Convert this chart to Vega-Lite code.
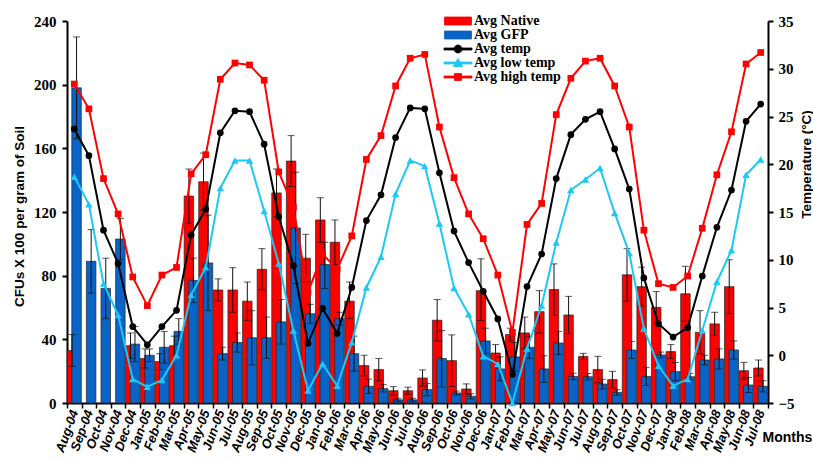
{
  "$schema": "https://vega.github.io/schema/vega-lite/v6.json",
  "width": 701,
  "height": 382,
  "autosize": {"type": "none"},
  "padding": {"left": 67, "top": 21, "right": 45, "bottom": 57},
  "background": "white",
  "config": {
    "view": {"stroke": null},
    "axis": {"grid": false, "labelColor": "black", "titleColor": "black", "domainColor": "black", "tickColor": "black"},
    "legend": {
      "orient": "none", "legendX": 384, "legendY": -7, "padding": 0,
      "labelFont": "Liberation Serif", "labelFontWeight": "bold", "labelFontSize": 14, "labelColor": "black",
      "symbolSize": 100, "labelOffset": 9, "rowPadding": -2.4
    }
  },
  "data": {"values": [
    {"m":"Aug-04","nat":33,"nlo":23,"nhi":43,"gfp":198,"glo":166,"ghi":230,"t":23.7,"lo":18.7,"hi":28.4},
    {"m":"Sep-04","nat":null,"nlo":null,"nhi":null,"gfp":89,"glo":69,"ghi":109,"t":20.9,"lo":15.8,"hi":25.8},
    {"m":"Oct-04","nat":null,"nlo":null,"nhi":null,"gfp":72,"glo":53,"ghi":91,"t":13.1,"lo":7.5,"hi":18.5},
    {"m":"Nov-04","nat":null,"nlo":null,"nhi":null,"gfp":103,"glo":90,"ghi":116,"t":9.6,"lo":4.2,"hi":14.8},
    {"m":"Dec-04","nat":36,"nlo":28,"nhi":44,"gfp":37,"glo":26,"ghi":48,"t":3.0,"lo":-2.5,"hi":8.2},
    {"m":"Jan-05","nat":28,"nlo":22,"nhi":34,"gfp":30,"glo":26,"ghi":34,"t":1.1,"lo":-3.3,"hi":5.2},
    {"m":"Feb-05","nat":26,"nlo":21,"nhi":31,"gfp":35,"glo":25,"ghi":45,"t":3.0,"lo":-2.6,"hi":8.4},
    {"m":"Mar-05","nat":36,"nlo":30,"nhi":42,"gfp":45,"glo":37,"ghi":53,"t":4.7,"lo":0.0,"hi":9.2},
    {"m":"Apr-05","nat":130,"nlo":113,"nhi":147,"gfp":77,"glo":63,"ghi":91,"t":12.6,"lo":6.3,"hi":19.0},
    {"m":"May-05","nat":139,"nlo":121,"nhi":157,"gfp":88,"glo":58,"ghi":118,"t":15.3,"lo":9.2,"hi":21.0},
    {"m":"Jun-05","nat":71,"nlo":64,"nhi":78,"gfp":31,"glo":27,"ghi":35,"t":23.3,"lo":17.5,"hi":28.9},
    {"m":"Jul-05","nat":71,"nlo":57,"nhi":85,"gfp":38,"glo":32,"ghi":44,"t":25.6,"lo":20.4,"hi":30.6},
    {"m":"Aug-05","nat":64,"nlo":52,"nhi":76,"gfp":41,"glo":24,"ghi":58,"t":25.5,"lo":20.4,"hi":30.4},
    {"m":"Sep-05","nat":84,"nlo":71,"nhi":97,"gfp":41,"glo":28,"ghi":54,"t":22.1,"lo":15.1,"hi":28.8},
    {"m":"Oct-05","nat":132,"nlo":117,"nhi":147,"gfp":51,"glo":37,"ghi":65,"t":14.5,"lo":9.6,"hi":19.2},
    {"m":"Nov-05","nat":152,"nlo":136,"nhi":168,"gfp":110,"glo":75,"ghi":145,"t":9.4,"lo":2.6,"hi":15.5},
    {"m":"Dec-05","nat":91,"nlo":76,"nhi":106,"gfp":56,"glo":50,"ghi":62,"t":1.25,"lo":-3.7,"hi":6.6},
    {"m":"Jan-06","nat":115,"nlo":101,"nhi":129,"gfp":87,"glo":72,"ghi":101,"t":4.9,"lo":-0.9,"hi":10.6},
    {"m":"Feb-06","nat":101,"nlo":87,"nhi":115,"gfp":53,"glo":49,"ghi":57,"t":2.3,"lo":-3.2,"hi":9.0},
    {"m":"Mar-06","nat":64,"nlo":53,"nhi":76,"gfp":31,"glo":20,"ghi":42,"t":7.1,"lo":1.35,"hi":12.5},
    {"m":"Apr-06","nat":23.5,"nlo":17,"nhi":30,"gfp":10.5,"glo":6,"ghi":15,"t":14.1,"lo":7.1,"hi":20.5},
    {"m":"May-06","nat":21,"nlo":14,"nhi":28,"gfp":9,"glo":7,"ghi":11.5,"t":16.8,"lo":10.3,"hi":23.0},
    {"m":"Jun-06","nat":7.7,"nlo":5,"nhi":10.3,"gfp":2,"glo":1,"ghi":3,"t":22.8,"lo":16.9,"hi":28.2},
    {"m":"Jul-06","nat":7.7,"nlo":5.5,"nhi":10,"gfp":2,"glo":1,"ghi":3,"t":25.9,"lo":20.4,"hi":31.1},
    {"m":"Aug-06","nat":15.7,"nlo":10.6,"nhi":20.8,"gfp":8.4,"glo":4.5,"ghi":12.3,"t":25.8,"lo":19.8,"hi":31.5},
    {"m":"Sep-06","nat":52,"nlo":39,"nhi":65,"gfp":28,"glo":10,"ghi":45.5,"t":19.1,"lo":13.8,"hi":23.9},
    {"m":"Oct-06","nat":26.6,"nlo":10.4,"nhi":42.8,"gfp":6.3,"glo":5,"ghi":7.5,"t":13.0,"lo":7.05,"hi":18.6},
    {"m":"Nov-06","nat":8.8,"nlo":5.6,"nhi":12,"gfp":4.2,"glo":2.6,"ghi":5.8,"t":9.7,"lo":4.3,"hi":14.8},
    {"m":"Dec-06","nat":70.6,"nlo":51.8,"nhi":90.6,"gfp":39,"glo":31,"ghi":47,"t":6.7,"lo":-0.1,"hi":12.2},
    {"m":"Jan-07","nat":31.4,"nlo":26,"nhi":36.7,"gfp":21.4,"glo":14,"ghi":29,"t":3.8,"lo":-0.9,"hi":8.4},
    {"m":"Feb-07","nat":43,"nlo":39,"nhi":47,"gfp":29,"glo":20,"ghi":38,"t":-2.0,"lo":-5.0,"hi":2.4},
    {"m":"Mar-07","nat":44,"nlo":34,"nhi":54,"gfp":35,"glo":28,"ghi":42,"t":7.2,"lo":0.7,"hi":13.7},
    {"m":"Apr-07","nat":57.4,"nlo":44,"nhi":70.6,"gfp":21.4,"glo":13,"ghi":29.7,"t":10.6,"lo":5.2,"hi":15.9},
    {"m":"May-07","nat":71.3,"nlo":55,"nhi":87.4,"gfp":37.7,"glo":30.5,"ghi":45,"t":18.5,"lo":11.8,"hi":25.2},
    {"m":"Jun-07","nat":55.3,"nlo":43.6,"nhi":67,"gfp":16.7,"glo":14.7,"ghi":18.7,"t":23.1,"lo":17.3,"hi":29.0},
    {"m":"Jul-07","nat":29.3,"nlo":27.4,"nhi":31.2,"gfp":16.5,"glo":14.5,"ghi":18.5,"t":24.7,"lo":18.4,"hi":30.8},
    {"m":"Aug-07","nat":21,"nlo":12.7,"nhi":29.3,"gfp":11.9,"glo":8.9,"ghi":14.9,"t":25.5,"lo":19.6,"hi":31.1},
    {"m":"Sep-07","nat":14.7,"nlo":9.5,"nhi":19.9,"gfp":6.7,"glo":5,"ghi":8.4,"t":21.6,"lo":14.9,"hi":28.2},
    {"m":"Oct-07","nat":80.5,"nlo":64,"nhi":97,"gfp":33.3,"glo":28,"ghi":38.7,"t":17.4,"lo":10.7,"hi":23.9},
    {"m":"Nov-07","nat":73.1,"nlo":61,"nhi":85.3,"gfp":16.7,"glo":11,"ghi":22.4,"t":8.1,"lo":2.8,"hi":13.1},
    {"m":"Dec-07","nat":60.1,"nlo":50,"nhi":70,"gfp":30.2,"glo":28.5,"ghi":32,"t":3.3,"lo":-1.1,"hi":7.5},
    {"m":"Jan-08","nat":32.3,"nlo":28,"nhi":36.7,"gfp":19.7,"glo":14,"ghi":25.5,"t":1.9,"lo":-3.2,"hi":7.1},
    {"m":"Feb-08","nat":68.6,"nlo":51.3,"nhi":85.9,"gfp":16.5,"glo":14.5,"ghi":18.5,"t":2.9,"lo":-2.5,"hi":8.3},
    {"m":"Mar-08","nat":44.4,"nlo":31,"nhi":58,"gfp":27,"glo":24,"ghi":30,"t":8.3,"lo":2.6,"hi":13.3},
    {"m":"Apr-08","nat":49.7,"nlo":42.4,"nhi":57,"gfp":27.7,"glo":21.4,"ghi":34,"t":13.4,"lo":7.7,"hi":18.9},
    {"m":"May-08","nat":73.1,"nlo":56,"nhi":90,"gfp":33.3,"glo":27.6,"ghi":39,"t":17.3,"lo":11.0,"hi":23.4},
    {"m":"Jun-08","nat":20.3,"nlo":15,"nhi":25.5,"gfp":11.3,"glo":6.6,"ghi":16,"t":24.5,"lo":18.9,"hi":30.5},
    {"m":"Jul-08","nat":22,"nlo":17,"nhi":27,"gfp":10.5,"glo":7,"ghi":14,"t":26.3,"lo":20.5,"hi":31.7}
  ]},
  "encoding": {
    "x": {
      "field": "m", "type": "ordinal",
      "sort": ["Aug-04","Sep-04","Oct-04","Nov-04","Dec-04","Jan-05","Feb-05","Mar-05","Apr-05","May-05","Jun-05","Jul-05","Aug-05","Sep-05","Oct-05","Nov-05","Dec-05","Jan-06","Feb-06","Mar-06","Apr-06","May-06","Jun-06","Jul-06","Aug-06","Sep-06","Oct-06","Nov-06","Dec-06","Jan-07","Feb-07","Mar-07","Apr-07","May-07","Jun-07","Jul-07","Aug-07","Sep-07","Oct-07","Nov-07","Dec-07","Jan-08","Feb-08","Mar-08","Apr-08","May-08","Jun-08","Jul-08"],
      "scale": {"paddingInner": 0, "paddingOuter": 0},
      "axis": {
        "title": "Months", "labelAngle": -70, "labelAlign": "right", "labelBaseline": "middle",
        "labelFont": "Liberation Sans", "labelFontWeight": "bold", "labelFontStyle": "italic", "labelFontSize": 13,
        "labelPadding": 2, "domainWidth": 2, "tickWidth": 1.5, "tickSize": 5, "tickBand": "extent",
        "titleFont": "Liberation Sans", "titleFontWeight": "bold", "titleFontSize": 14,
        "titleX": 695, "titleY": 34, "titleAlign": "left", "titleBaseline": "middle", "titleAnchor": null
      }
    }
  },
  "layer": [
    {
      "layer": [
        {
          "mark": {"type": "bar", "width": {"band": 0.65}, "xOffset": -2.25, "stroke": "#222222", "strokeWidth": 0.7},
          "encoding": {
            "y": {
              "field": "nat", "type": "quantitative",
              "scale": {"domain": [0, 240], "nice": false, "zero": true},
              "axis": {
                "title": "CFUs X 100 per gram of Soil",
                "values": [0,20,40,60,80,100,120,140,160,180,200,220,240],
                "labelFont": "Liberation Serif", "labelFontWeight": "bold", "labelFontSize": 15, "labelPadding": 6,
                "domainWidth": 2, "tickWidth": 2, "tickSize": 5,
                "titleFont": "Liberation Sans", "titleFontWeight": "bold", "titleFontSize": 13.5, "titlePadding": 7, "titleY": 195
              }
            },
            "color": {
              "datum": "Avg Native",
              "scale": {
                "domain": ["Avg Native", "Avg GFP", "Avg temp", "Avg low temp", "Avg high temp"],
                "range": ["#ff0000", "#0a64c8", "#000000", "#1ec8f5", "#ff0000"]
              },
              "legend": {
                "title": null,
                "symbolType": {"expr": "datum.value == 'Avg Native' || datum.value == 'Avg GFP' ? 'M-2.7,-0.8H2.7V0.8H-2.7Z' : datum.value == 'Avg temp' ? 'M-2.8,-0.2H2.8V0.2H-2.8Z M0.8,0A0.8,0.8,0,1,1,-0.8,0A0.8,0.8,0,1,1,0.8,0Z' : datum.value == 'Avg low temp' ? 'M-2.8,-0.2H2.8V0.2H-2.8Z M0,-0.95L0.95,0.7H-0.95Z' : 'M-2.8,-0.2H2.8V0.2H-2.8Z M-0.7,-0.7H0.7V0.7H-0.7Z'"},
                "symbolStrokeColor": {"expr": "datum.value == 'Avg Native' || datum.value == 'Avg GFP' ? '#222222' : scale('color', datum.value)"},
                "symbolStrokeWidth": 0.8,
                "symbolOpacity": 1
              }
            }
          }
        },
        {
          "mark": {"type": "bar", "width": {"band": 0.65}, "xOffset": 2.25, "stroke": "#222222", "strokeWidth": 0.7},
          "encoding": {
            "y": {"field": "gfp", "type": "quantitative"},
            "color": {"datum": "Avg GFP"}
          }
        },
        {
          "mark": {"type": "rule", "xOffset": -2.25, "color": "#111111", "strokeWidth": 1},
          "encoding": {"y": {"field": "nlo", "type": "quantitative"}, "y2": {"field": "nhi"}}
        },
        {
          "mark": {"type": "tick", "xOffset": -2.25, "color": "#111111", "size": 7, "thickness": 1, "orient": "horizontal"},
          "encoding": {"y": {"field": "nhi", "type": "quantitative"}}
        },
        {
          "mark": {"type": "tick", "xOffset": -2.25, "color": "#111111", "size": 7, "thickness": 1, "orient": "horizontal"},
          "encoding": {"y": {"field": "nlo", "type": "quantitative"}}
        },
        {
          "mark": {"type": "rule", "xOffset": 2.25, "color": "#111111", "strokeWidth": 1},
          "encoding": {"y": {"field": "glo", "type": "quantitative"}, "y2": {"field": "ghi"}}
        },
        {
          "mark": {"type": "tick", "xOffset": 2.25, "color": "#111111", "size": 7, "thickness": 1, "orient": "horizontal"},
          "encoding": {"y": {"field": "ghi", "type": "quantitative"}}
        },
        {
          "mark": {"type": "tick", "xOffset": 2.25, "color": "#111111", "size": 7, "thickness": 1, "orient": "horizontal"},
          "encoding": {"y": {"field": "glo", "type": "quantitative"}}
        }
      ]
    },
    {
      "layer": [
        {
          "mark": {"type": "line", "strokeWidth": 2, "point": {"filled": true, "shape": "circle", "size": 45}},
          "encoding": {
            "y": {
              "field": "t", "type": "quantitative",
              "scale": {"domain": [-5, 35], "nice": false, "zero": false},
              "axis": {
                "orient": "right", "title": "Temperature (°C)",
                "values": [-5,0,5,10,15,20,25,30,35],
                "labelFont": "Liberation Serif", "labelFontWeight": "bold", "labelFontSize": 15, "labelPadding": 5,
                "domainWidth": 2, "tickWidth": 2, "tickSize": 5,
                "titleFont": "Liberation Sans", "titleFontWeight": "bold", "titleFontSize": 13.5, "titleAngle": -90,
                "titleX": 38, "titleY": 143, "titleBaseline": "middle", "titleAlign": "center"
              }
            },
            "color": {"datum": "Avg temp"}
          }
        },
        {
          "mark": {"type": "line", "strokeWidth": 2, "point": {"filled": true, "shape": "triangle-up", "size": 55}},
          "encoding": {
            "y": {"field": "lo", "type": "quantitative"},
            "color": {"datum": "Avg low temp"}
          }
        },
        {
          "mark": {"type": "line", "strokeWidth": 2, "point": {"filled": true, "shape": "square", "size": 45}},
          "encoding": {
            "y": {"field": "hi", "type": "quantitative"},
            "color": {"datum": "Avg high temp"}
          }
        }
      ]
    }
  ],
  "resolve": {"scale": {"y": "independent"}}
}
